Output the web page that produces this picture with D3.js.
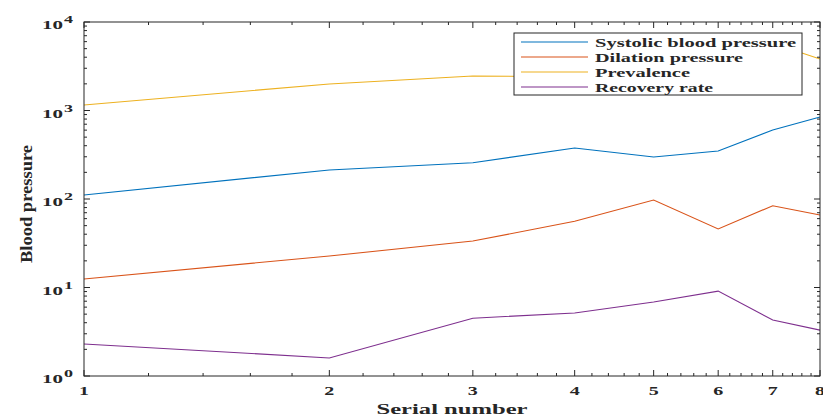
<!DOCTYPE html>
<html><head><meta charset="utf-8">
<script src="https://cdn.jsdelivr.net/npm/d3@7"></script>
<style>body{margin:0;background:#fff}svg{display:block}text{font-family:"Liberation Serif","Times New Roman",serif;font-weight:bold;fill:#262626}</style>
</head><body><svg id="c" width="823" height="416"></svg>
<script>
const serial = [1,2,3,4,5,6,7,8];
const systolic = [111,213,257,377,298,349,602,845];
const dilation = [12.5,22.7,33.5,56,97.5,45.8,84,66];
const prevalence = [1153,1995,2455,2400,3000,3300,5740,3820];
const recovery = [2.3,1.6,4.5,5.15,6.86,9.1,4.3,3.3];
const seriesNames = ["Systolic blood pressure","Dilation pressure","Prevalence","Recovery rate"];
const seriesColors = ["#0072BD","#D95319","#EDB120","#7E2F8E"];
const xTickLabels = ["1","2","3","4","5","6","7","8"];
const yTickExps = [0,1,2,3,4];

const svg = d3.select("#c");
const L=84,R=820,T=22,B=376;
const x = d3.scaleLog().domain([1,8]).range([L,R]);
const y = d3.scaleLog().domain([1,1e4]).range([B,T]);
const data = [systolic,dilation,prevalence,recovery];
const line = d3.line().x((d,i)=>x(serial[i])).y(d=>y(d));

const g = svg.append("g");
data.forEach((s,k)=>{
  g.append("path").datum(s).attr("d",line).attr("fill","none")
   .attr("stroke",seriesColors[k]).attr("stroke-width",1.1);
});

// ticks
const ax = svg.append("g").attr("stroke","#262626").attr("stroke-width",1);
const xMinor=[]; for(let v=1.2; v<7.9; v+=0.2){ if(Math.abs(v-Math.round(v))>0.05) xMinor.push(+v.toFixed(1)); }
xMinor.forEach(v=>{
  ax.append("line").attr("x1",x(v)).attr("x2",x(v)).attr("y1",B).attr("y2",B-3);
  ax.append("line").attr("x1",x(v)).attr("x2",x(v)).attr("y1",T).attr("y2",T+3);
});
serial.forEach(v=>{
  ax.append("line").attr("x1",x(v)).attr("x2",x(v)).attr("y1",B).attr("y2",B-6);
  ax.append("line").attr("x1",x(v)).attr("x2",x(v)).attr("y1",T).attr("y2",T+6);
});
for(let e=0;e<4;e++){ for(let m=2;m<=9;m++){ const v=m*Math.pow(10,e);
  ax.append("line").attr("x1",L).attr("x2",L+3).attr("y1",y(v)).attr("y2",y(v));
  ax.append("line").attr("x1",R).attr("x2",R-3).attr("y1",y(v)).attr("y2",y(v));
}}
yTickExps.forEach(e=>{ const v=Math.pow(10,e);
  ax.append("line").attr("x1",L).attr("x2",L+6).attr("y1",y(v)).attr("y2",y(v));
  ax.append("line").attr("x1",R).attr("x2",R-6).attr("y1",y(v)).attr("y2",y(v));
});
ax.append("rect").attr("x",L).attr("y",T).attr("width",R-L).attr("height",B-T).attr("fill","none");

// x tick labels
serial.forEach((v,i)=>{
  svg.append("text").attr("x",x(v)).attr("y",395).attr("text-anchor","middle")
   .attr("font-size",12).attr("textLength",10).attr("lengthAdjust","spacingAndGlyphs").text(xTickLabels[i]);
});
// y tick labels
yTickExps.forEach(e=>{
  const yy=y(Math.pow(10,e));
  svg.append("text").attr("x",42).attr("y",yy+7).attr("font-size",12)
   .attr("textLength",21).attr("lengthAdjust","spacingAndGlyphs").text("10");
  svg.append("text").attr("x",64).attr("y",yy+1).attr("font-size",10)
   .attr("textLength",9).attr("lengthAdjust","spacingAndGlyphs").text(String(e));
});
// axis labels
svg.append("text").attr("x",452).attr("y",414).attr("text-anchor","middle").attr("font-size",15)
  .attr("textLength",151).attr("lengthAdjust","spacingAndGlyphs").text("Serial number");
svg.append("text").attr("transform","translate(32,204) rotate(-90)").attr("text-anchor","middle").attr("font-size",16)
  .attr("textLength",118).attr("lengthAdjust","spacingAndGlyphs").text("Blood pressure");

// legend
const lg = svg.append("g");
lg.append("rect").attr("x",514).attr("y",33).attr("width",288).attr("height",62).attr("fill","#fff").attr("stroke","#262626").attr("stroke-width",1);
const legW=[201,148,95,118];
seriesNames.forEach((n,k)=>{
  const yy=42+k*15;
  lg.append("line").attr("x1",521).attr("x2",588).attr("y1",yy).attr("y2",yy).attr("stroke",seriesColors[k]).attr("stroke-width",1.2);
  lg.append("text").attr("x",595).attr("y",yy+4.5).attr("font-size",13)
   .attr("textLength",legW[k]).attr("lengthAdjust","spacingAndGlyphs").text(n);
});
</script></body></html>
